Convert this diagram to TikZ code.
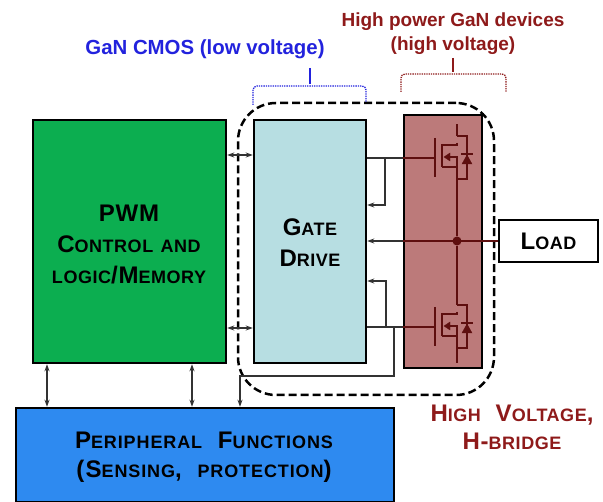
\documentclass[tikz,border=0pt]{standalone}
\usepackage{fontspec}
\setmainfont{Liberation Sans}
\usetikzlibrary{arrows.meta}
\definecolor{pwmgreen}{HTML}{0CAE50}
\definecolor{gateblue}{HTML}{B7DEE2}
\definecolor{bridgered}{HTML}{BC7A7A}
\definecolor{periblue}{HTML}{2E8AF0}
\definecolor{devred}{HTML}{5E0F0F}
\definecolor{labelred}{HTML}{8E1A1A}
\definecolor{labelblue}{HTML}{2222DD}
\newcommand{\lowcap}[1]{{\fontsize{18}{18}\selectfont\MakeUppercase{#1}}}
\newcommand{\capfont}{\fontsize{24}{31}\selectfont\bfseries\addfontfeature{LetterSpace=3}}
\tikzset{
  block/.style={draw=black,line width=2.5pt,inner sep=0pt,font=\capfont,align=center},
  blocktext/.style={align=center,font=\capfont},
  wire/.style={line width=1.1pt,draw=black!80},
  link/.style={wire,{Stealth[length=7pt,width=5pt]}-{Stealth[length=7pt,width=5pt]}},
  feed/.style={wire,-{Stealth[length=7pt,width=5pt]}},
  devline/.style={devred,line width=1.2pt},
  brace/.style={line width=1.3pt,densely dotted,rounded corners=4pt},
  pics/mosfet/.style={code={
    \draw[devred,line width=2.8pt] (-22,-20) -- (-22,19);
    \draw[devred,line width=1.6pt] (-15,-14) -- (-15,9);
    \draw[devline] (0,-15) -- (0,-13) -- (-15,-13);
    \draw[devline] (-15,9) -- (0,9) -- (0,-1) -- (-8,-1);
    \draw[devred,fill=devred] (-13,-1) -- (-7,-5) -- (-7,3) -- cycle;
    \draw[devline] (0,-22) -- (10,-22) -- (10,21) -- (0,21);
    \draw[devline] (0,9) -- (0,21);
    \draw[devred,fill=devred] (10,-3) -- (5,6) -- (15,6) -- cycle;
    \draw[devline] (4,-4) -- (16,-4);
    \coordinate (-gate) at (-22,0);
    \coordinate (-top) at (0,-22);
    \coordinate (-low) at (0,21);
  }}
}
\begin{document}
\begin{tikzpicture}[x=1pt,y=-1pt]
  \useasboundingbox (0,0) rectangle (603,502);

  \node[block,fill=periblue,minimum width=378pt,minimum height=94pt] (peri) at (205,455) {};
  \node[block,fill=pwmgreen,minimum width=193pt,minimum height=243pt] (pwm) at (129.5,241.5) {};
  \node[block,fill=gateblue,minimum width=112pt,minimum height=243pt] (gate) at (310,241.5) {};
  \node[block,fill=bridgered,minimum width=78pt,minimum height=253pt] (bridge) at (443,241.5) {};
  \node[block,minimum width=99pt,minimum height=42pt] (load) at (548.5,241) {L\lowcap{oad}};
  \node[draw=black,line width=2.5pt,dash pattern=on 8pt off 4pt,rounded corners=38pt,minimum width=256pt,minimum height=292pt] (hv) at (366,249) {};

  \pic (hi) at (457,158) {mosfet};
  \pic (lo) at (457,327) {mosfet};

  \node[circle,fill=devred,inner sep=0pt,minimum size=9pt] (mid) at (hi-top |- load) {};
  \draw[devline] (hi-low) -- (mid) -- (lo-top);
  \draw[devline] (lo-low) -- ++(0,15);
  \draw[devline] (hi-top) -- ++(0,-12);

  % gate lines
  \coordinate (hifork) at (385,158);
  \coordinate (hiback) at (385,205);
  \coordinate (lofork) at (386,327);
  \coordinate (loback) at (386,281);
  \coordinate (tap) at (394,327);
  \coordinate (tapdown) at (394,376);
  \coordinate (tapleft) at (240,376);
  \draw[wire] (gate.east |- hifork) -- (bridge.west |- hifork);
  \draw[wire] (gate.east |- lofork) -- (bridge.west |- lofork);
  \draw[devline] (bridge.west |- hifork) -- (hi-gate);
  \draw[devline] (bridge.west |- lofork) -- (lo-gate);
  \draw[feed] (hifork) -- (hiback) -- (gate.east |- hiback);
  \draw[feed] (lofork) -- (loback) -- (gate.east |- loback);
  \draw[devline] (load.west) -- (bridge.west |- load);
  \draw[feed] (bridge.west |- load) -- (gate.east |- load);
  \draw[feed] (tap) -- (tapdown) -- (tapleft) -- (tapleft |- peri.north);

  % links between blocks
  \coordinate (linktop) at (240,155);
  \coordinate (linklow) at (240,328);
  \coordinate (linka) at (47,380);
  \coordinate (linkb) at (192,380);
  \draw[link] (pwm.east |- linktop) -- (gate.west |- linktop);
  \draw[link] (pwm.east |- linklow) -- (gate.west |- linklow);
  \draw[link] (linka |- pwm.south) -- (linka |- peri.north);
  \draw[link] (linkb |- pwm.south) -- (linkb |- peri.north);

  % braces
  \draw[brace,labelblue] (253,105) -- (253,86) -- (366,86) -- (366,102);
  \draw[line width=1.3pt,labelblue] (310,68) -- (310,84);
  \draw[brace,labelred] (401,92) -- (401,74) -- (506,74) -- (506,92);
  \draw[line width=1.3pt,labelred] (453,58) -- (453,72);

  \node[labelblue,font=\fontsize{20.4}{24}\selectfont\bfseries] (cmos) at (205,49) {GaN CMOS (low voltage)};
  \node[labelred,align=center,font=\fontsize{19}{24}\selectfont\bfseries] (devices) at (453,34) {High power GaN devices\\(high voltage)};
  \node[blocktext] (pwmlabel) at (129,244) {PWM\\C\lowcap{ontrol} \lowcap{and}\\\lowcap{logic}/M\lowcap{emory}};
  \node[blocktext] (gatelabel) at (310,243) {G\lowcap{ate}\\D\lowcap{rive}};
  \node[blocktext,labelred] (hvlabel) at (512,427) {H\lowcap{igh} \ V\lowcap{oltage},\\[-3pt]H-\lowcap{bridge}};
  \node[blocktext,font=\capfont\addfontfeature{LetterSpace=5}] (perilabel) at (204,457) {P\lowcap{eripheral} \ F\lowcap{unctions}\\[-2pt](S\lowcap{ensing}, \ \lowcap{protection})};
\end{tikzpicture}
\end{document}
